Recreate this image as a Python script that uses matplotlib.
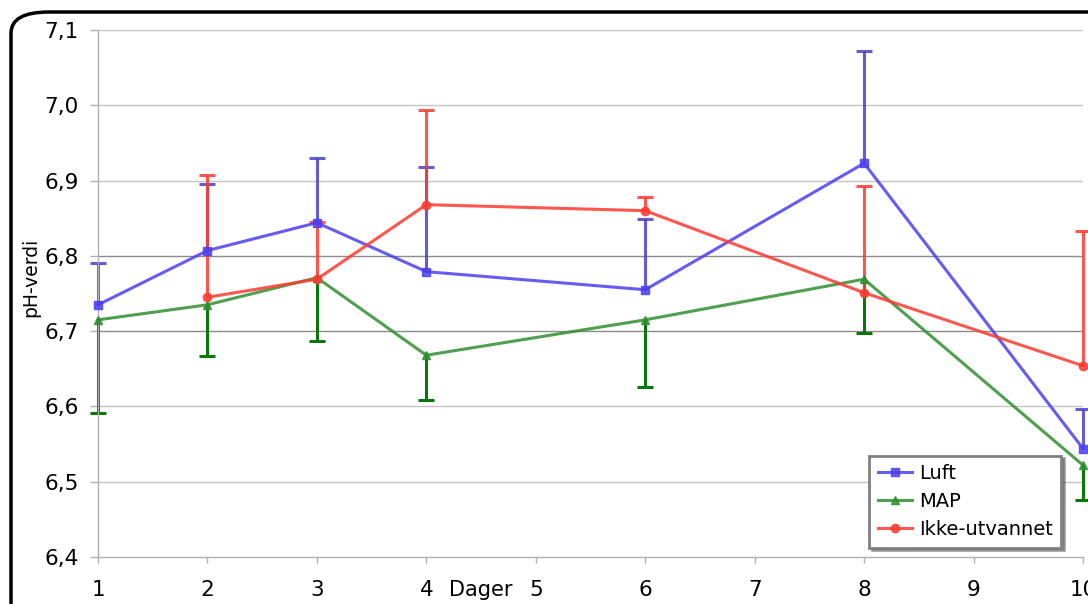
import numpy as np
import matplotlib
matplotlib.use("Agg")
import matplotlib.pyplot as plt
from matplotlib.patches import FancyBboxPatch
from matplotlib.ticker import FuncFormatter

# Data
days = [1, 2, 3, 4, 6, 8, 10]

luft = [6.735, 6.807, 6.844, 6.779, 6.755, 6.923, 6.544]
luft_err = [0.056, 0.088, 0.086, 0.139, 0.094, 0.149, 0.053]

map_vals = [6.715, 6.735, 6.771, 6.668, 6.715, 6.769, 6.522]
map_err = [0.124, 0.068, 0.084, 0.059, 0.089, 0.071, 0.046]

ikke = [np.nan, 6.745, 6.769, 6.868, 6.860, 6.751, 6.654]
ikke_err = [0.0, 0.162, 0.076, 0.126, 0.018, 0.142, 0.179]

yticks = [6.4, 6.5, 6.6, 6.7, 6.8, 6.9, 7.0, 7.1]
xticks = [1, 2, 3, 4, 5, 6, 7, 8, 9, 10]

plt.rcParams['font.family'] = ['DejaVu Sans']

fig = plt.figure(figsize=(10.88, 6.04), dpi=100)
ax = fig.add_axes([98 / 1088, 47 / 604, 985 / 1088, 527 / 604])

# rounded frame around the chart (cut off at right and bottom like the source)
frame = FancyBboxPatch((11 / 1088, -0.2), 1.2, 1.2 - 12 / 604,
                       boxstyle="round,pad=0,rounding_size=0.035",
                       transform=fig.transFigure, fill=False,
                       edgecolor="black", linewidth=2.5, clip_on=False)
fig.patches.append(frame)

# gridlines (two of them slightly darker, as in the original)
for y in yticks[1:]:
    c = "#8c8c8c" if y in (6.7, 6.8) else "#c4c4c4"
    ax.axhline(y, color=c, linewidth=1.0, zorder=0)

# one-sided error bars
eb = dict(fmt="none", elinewidth=2.2, capsize=6, capthick=2.2, zorder=2)
e1 = ax.errorbar(days, luft, yerr=[np.zeros(len(luft)), luft_err],
                 ecolor="#4a3fc8", alpha=0.85, **eb)
e2 = ax.errorbar(days, map_vals, yerr=[map_err, np.zeros(len(map_vals))],
                 ecolor="#0b760b", **eb)
e3 = ax.errorbar(days, ikke, yerr=[np.zeros(len(ikke)), ikke_err],
                 ecolor="#ff3a30", alpha=0.85, **eb)
# hide the cap on the zero-length side (caplines are ordered low, high)
e1.lines[1][0].set_visible(False)
e2.lines[1][1].set_visible(False)
e3.lines[1][0].set_visible(False)
for e in (e1, e2, e3):
    for art in e.lines[1] + e.lines[2]:
        art.set_clip_on(False)

# lines
l1, = ax.plot(days, luft, color="#4b3ff0", marker="s", markersize=6, linewidth=2.2,
              alpha=0.85, label="Luft", zorder=3)
l2, = ax.plot(days, map_vals, color="#2f8f2f", marker="^", markersize=6, linewidth=2.2,
              alpha=0.85, label="MAP", zorder=3)
l3, = ax.plot(days, ikke, color="#ff3a30", marker="o", markersize=6, linewidth=2.2,
              alpha=0.85, label="Ikke-utvannet", zorder=3)
for l in (l1, l2, l3):
    l.set_clip_on(False)

ax.set_xlim(1, 10)
ax.set_ylim(6.4, 7.1)
ax.set_xticks(xticks)
ax.set_yticks(yticks)
ax.yaxis.set_major_formatter(FuncFormatter(lambda v, p: f"{v:.1f}".replace(".", ",")))

for s in ["top", "right"]:
    ax.spines[s].set_visible(False)
for s in ["left", "bottom"]:
    ax.spines[s].set_color("#b0b0b0")
    ax.spines[s].set_linewidth(1.0)
ax.tick_params(axis="both", colors="#b0b0b0", labelcolor="black", labelsize=15.5,
               width=1.0)
ax.tick_params(axis="x", length=4.5, pad=12)
ax.tick_params(axis="y", length=6, pad=8)

ax.set_ylabel("pH-verdi", fontsize=13.5)
ax.yaxis.set_label_coords(-0.059, 0.53)
ax.text(4.5, -33 / 527, "Dager", transform=ax.get_xaxis_transform(), fontsize=15,
        ha="center", va="center")

leg = ax.legend(loc="lower right", bbox_to_anchor=(0.978, 0.018), fontsize=14,
                frameon=True, fancybox=False, shadow=True, handlelength=1.75,
                handletextpad=0.35, borderpad=0.45, labelspacing=0.45,
                borderaxespad=0.0)
leg.get_frame().set_edgecolor("#808080")
leg.get_frame().set_linewidth(2.0)

fig.savefig("out.png", dpi=100)
